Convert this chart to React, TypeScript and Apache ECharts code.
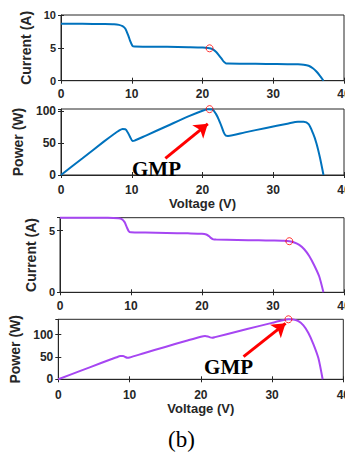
import React, { useEffect, useRef } from "react";
import * as echarts from "echarts";

// ---- data ----
const X_TICKS = [0, 10, 20, 30, 40];

// case A (blue)
const VOLT_A = [0, 3, 6, 7.5, 8.2, 8.7, 9.1, 9.5, 9.8, 10.1, 10.4, 12, 15, 18, 20, 20.8, 21.4, 21.9, 22.3, 22.7, 23.0, 23.3, 23.6, 26, 29, 32, 33.5, 34.3, 35.0, 35.6, 36.1, 36.6, 37.1];
const CURR_A = [8.65, 8.65, 8.63, 8.6, 8.5, 8.3, 7.9, 6.9, 6.0, 5.3, 5.2, 5.18, 5.15, 5.1, 5.05, 4.97, 4.8, 4.4, 3.9, 3.35, 2.9, 2.65, 2.6, 2.58, 2.55, 2.52, 2.5, 2.44, 2.28, 1.9, 1.4, 0.75, 0];
const POW_A = [0, 26, 52, 64.5, 69.7, 72.2, 72, 65.5, 59, 53.5, 54, 62, 77, 92, 101, 103.4, 103, 96, 87, 76, 67, 61.7, 61.4, 67, 74, 80.6, 83.8, 83.7, 79.8, 66, 50, 27.5, 0];
const GMP_A = { v: 21.0, i: 4.93, p: 103.5 };

// case B (purple)
const VOLT_B = [0, 3, 6, 7.5, 8.2, 8.7, 9.1, 9.4, 9.7, 10.0, 12, 15, 18, 20, 20.6, 21.0, 21.3, 21.6, 22, 25, 28, 30, 31.5, 32.3, 33.0, 33.7, 34.4, 35.1, 35.8, 36.5, 37.1];
const CURR_B = [6.06, 6.06, 6.05, 6.04, 6.02, 5.95, 5.7, 5.3, 4.95, 4.87, 4.85, 4.82, 4.79, 4.76, 4.7, 4.55, 4.4, 4.3, 4.28, 4.25, 4.22, 4.2, 4.18, 4.15, 4.05, 3.85, 3.5, 2.95, 2.2, 1.3, 0];
const POW_B = [0, 18.2, 36.3, 45.3, 49.4, 51.8, 51.9, 49.8, 48, 48.7, 58.2, 72.3, 86.2, 95.2, 96.8, 95.5, 93.7, 92.9, 94.2, 106.3, 118.2, 126, 131.7, 134, 133.7, 129.7, 120.4, 103.5, 78.8, 47.5, 0];
const GMP_B = { v: 32.3, i: 4.15, p: 134 };

const Y_MAX = [10, 103.7, 6.06, 134];
const Y_STEP = [5, 50, 5, 50];
const Y_NAMES = ["Current (A)", "Power (W)", "Current (A)", "Power (W)"];
const X_NAMES = ["", "Voltage (V)", "", "Voltage (V)"];

// annotation positions in data coordinates
const ARROW_A = [[14.75, 26], [20.75, 80.4]];
const LABEL_A = [13.5, 9.5];
const ARROW_B = [[26.0, 50.5], [31.9, 125]];
const LABEL_B = [23.9, 26.4];

const BLUE = "#0072BD";
const PURPLE = "#A646F2";
const SANS = "'Liberation Sans', Arial, Helvetica, sans-serif";
const SERIF = "'Liberation Serif', 'Times New Roman', serif";
const INK = "#262626";

const GRIDS = [
  { left: 61, top: 15, width: 283, height: 65.7 },
  { left: 61, top: 109, width: 283, height: 66 },
  { left: 60, top: 217.7, width: 284, height: 74.6 },
  { left: 58.3, top: 319.3, width: 285, height: 60 },
];
const Y_NAME_GAP = [23, 28, 15.5, 30];
const Y_LABEL_SIZE = [11, 12, 11, 12];
const X_LABEL_MARGIN = [7.5, 9, 8, 10];
const X_NAME_GAP = [0, 17, 0, 21];

function pairs(xs: number[], ys: number[]) {
  return xs.map((x, k) => [x, ys[k]]);
}

export default function App() {
  const ref = useRef<HTMLDivElement>(null);
  useEffect(() => {
    if (!ref.current) return;
    const chart = echarts.init(ref.current, undefined, { renderer: "svg" });

    const tickStyle = { show: true, inside: true, length: 3, lineStyle: { color: INK, width: 1 } };
    const labelStyle = { color: INK, fontFamily: SANS, fontWeight: "bold" as const, fontSize: 12 };
    const xNameStyle = { color: INK, fontFamily: SANS, fontWeight: "bold" as const, fontSize: 13 };
    const yNameStyle = { color: INK, fontFamily: SANS, fontWeight: "bold" as const, fontSize: 14 };

    const xAxes: any[] = [];
    const yAxes: any[] = [];
    for (let g = 0; g < 4; g++) {
      xAxes.push({
        type: "value", gridIndex: g, position: "bottom",
        min: X_TICKS[0], max: X_TICKS[X_TICKS.length - 1], interval: X_TICKS[1] - X_TICKS[0],
        axisLine: { show: true, lineStyle: { color: INK, width: 1 } },
        axisTick: tickStyle,
        axisLabel: { ...labelStyle, margin: X_LABEL_MARGIN[g] },
        splitLine: { show: false },
        name: X_NAMES[g], nameLocation: "middle", nameGap: X_NAME_GAP[g], nameTextStyle: xNameStyle,
      });
      yAxes.push({
        type: "value", gridIndex: g, position: "left",
        min: 0, max: Y_MAX[g], interval: Y_STEP[g],
        axisLine: { show: true, lineStyle: { color: INK, width: 1 } },
        axisTick: tickStyle,
        axisLabel: { ...labelStyle, fontSize: Y_LABEL_SIZE[g], margin: 5, showMaxLabel: Y_MAX[g] % Y_STEP[g] === 0 },
        splitLine: { show: false },
        name: Y_NAMES[g], nameLocation: "middle", nameGap: Y_NAME_GAP[g], nameTextStyle: yNameStyle,
      });
    }
    for (let g = 0; g < 4; g++) {
      xAxes.push({
        type: "value", gridIndex: g, position: "top",
        min: X_TICKS[0], max: X_TICKS[X_TICKS.length - 1], interval: X_TICKS[1] - X_TICKS[0],
        axisLine: { show: false }, axisTick: tickStyle, axisLabel: { show: false }, splitLine: { show: false },
      });
      yAxes.push({
        type: "value", gridIndex: g, position: "right",
        min: 0, max: Y_MAX[g], interval: Y_STEP[g],
        axisLine: { show: false }, axisTick: tickStyle, axisLabel: { show: false }, splitLine: { show: false },
      });
    }

    const lineSeries = (idx: number, data: number[][], color: string, extra: any = {}) => ({
      type: "line", xAxisIndex: idx, yAxisIndex: idx, data,
      showSymbol: false, symbol: "none", smooth: 0.25, clip: false,
      lineStyle: { color, width: 2 }, z: 3, ...extra,
    });
    const marker = (idx: number, pt: number[]) => ({
      type: "scatter", xAxisIndex: idx, yAxisIndex: idx, data: [pt], clip: false,
      symbol: "circle", symbolSize: 7, z: 5,
      itemStyle: { color: "rgba(0,0,0,0)", borderColor: "#FF0000", borderWidth: 1 },
    });
    const annotate = (arrow: number[][], label: number[]) => ({
      markLine: {
        silent: true, symbol: ["none", "arrow"], symbolSize: 13,
        lineStyle: { color: "#FF0000", width: 3, type: "solid" },
        label: { show: false },
        data: [[{ coord: arrow[0] }, { coord: arrow[1] }]],
      },
      markPoint: {
        silent: true, symbol: "circle", symbolSize: 1,
        itemStyle: { color: "rgba(0,0,0,0)" },
        label: { show: true, position: "inside", formatter: "GMP", color: "#000", fontFamily: SERIF, fontWeight: "bold", fontSize: 21 },
        data: [{ coord: label }],
      },
    });

    chart.setOption({
      animation: false,
      backgroundColor: "#fff",
      grid: GRIDS.map((g) => ({
        ...g, show: true, borderColor: INK, borderWidth: 1, backgroundColor: "transparent",
        containLabel: false, outerBoundsMode: "none",
      })),
      xAxis: xAxes,
      yAxis: yAxes,
      series: [
        lineSeries(0, pairs(VOLT_A, CURR_A), BLUE),
        lineSeries(1, pairs(VOLT_A, POW_A), BLUE, annotate(ARROW_A, LABEL_A)),
        lineSeries(2, pairs(VOLT_B, CURR_B), PURPLE),
        lineSeries(3, pairs(VOLT_B, POW_B), PURPLE, annotate(ARROW_B, LABEL_B)),
        marker(0, [GMP_A.v, GMP_A.i]),
        marker(1, [GMP_A.v, GMP_A.p]),
        marker(2, [GMP_B.v, GMP_B.i]),
        marker(3, [GMP_B.v, GMP_B.p]),
      ],
      graphic: [
        { type: "text", left: 168, top: 428, style: { text: "(b)", font: `23px ${SERIF}`, fill: "#000" } },
      ],
    });
    return () => chart.dispose();
  }, []);
  return <div ref={ref} style={{ position: "absolute", left: 0, top: 0, width: 345, height: 455 }} />;
}
